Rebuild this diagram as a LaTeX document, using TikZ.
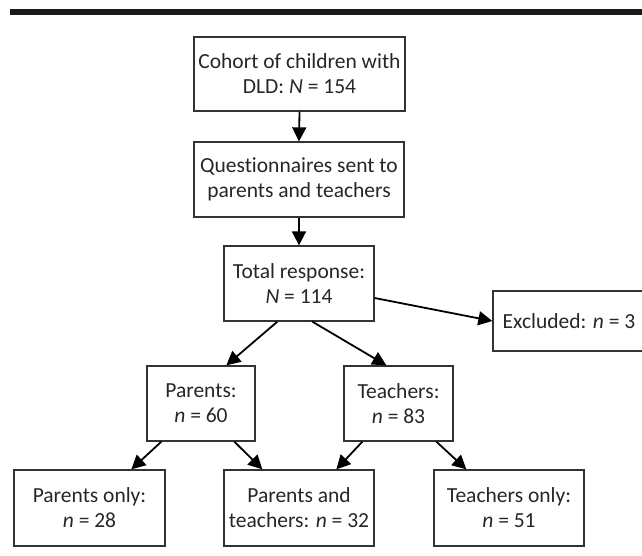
\documentclass[tikz,border=0pt]{standalone}
\usepackage{fontspec}
\setmainfont{Carlito}[Ligatures=NoCommon]
\usetikzlibrary{arrows.meta}
\begin{document}
\begin{tikzpicture}[x=1pt,y=-1pt,
  box/.style={draw=black!80, line width=1.3pt, inner sep=0pt, align=center,
    text=black!85, font=\fontsize{21.5}{25}\selectfont},
  arr/.style={draw=black, line width=1.8pt, -{Triangle[length=14pt,width=14pt]}}]
\useasboundingbox (0,0) rectangle (642,555);
\clip (0,0) rectangle (642,555);
\fill[black!90] (10,9) rectangle (642,15);
\node[box, minimum width=211pt, minimum height=74pt] (b1) at (299.5,74) {Cohort of children with\\DLD: \textit{N} = 154};
\node[box, minimum width=210pt, minimum height=75pt] (b2) at (299,179.5) {Questionnaires sent to\\parents and teachers};
\node[box, minimum width=150pt, minimum height=75pt] (b3) at (299,283.5) {Total response:\\\textit{N} = 114};
\node[box, minimum width=152pt, minimum height=60pt] (ex) at (569,321) {Excluded: \textit{n} = 3};
\node[box, minimum width=108pt, minimum height=75pt] (par) at (201,403.5) {Parents:\\\textit{n} = 60};
\node[box, minimum width=109pt, minimum height=75pt] (tea) at (398.5,403.5) {Teachers:\\\textit{n} = 83};
\node[box, minimum width=151pt, minimum height=76pt] (po) at (89.5,508) {Parents only:\\\textit{n} = 28};
\node[box, minimum width=150pt, minimum height=76pt] (pt) at (299,508) {Parents and\\teachers: \textit{n} = 32};
\node[box, minimum width=150pt, minimum height=76pt] (to) at (509,508) {Teachers only:\\\textit{n} = 51};
\draw[arr] (b1.south) -- (b2.north);
\draw[arr] (b2.south) -- (b3.north);
\draw[arr] ([yshift=-14.5pt]b3.east) -- (ex.west);
\draw[arr] ([xshift=54pt]b3.south west) -- ([xshift=80pt]par.north west);
\draw[arr] ([xshift=89pt]b3.south west) -- ([xshift=43pt]tea.north west);
\draw[arr] ([xshift=15pt]par.south west) -- ([xshift=118pt]po.north west);
\draw[arr] ([xshift=88pt]par.south west) -- ([xshift=39pt]pt.north west);
\draw[arr] ([xshift=19pt]tea.south west) -- ([xshift=113pt]pt.north west);
\draw[arr] ([xshift=93pt]tea.south west) -- ([xshift=33pt]to.north west);
\end{tikzpicture}
\end{document}
